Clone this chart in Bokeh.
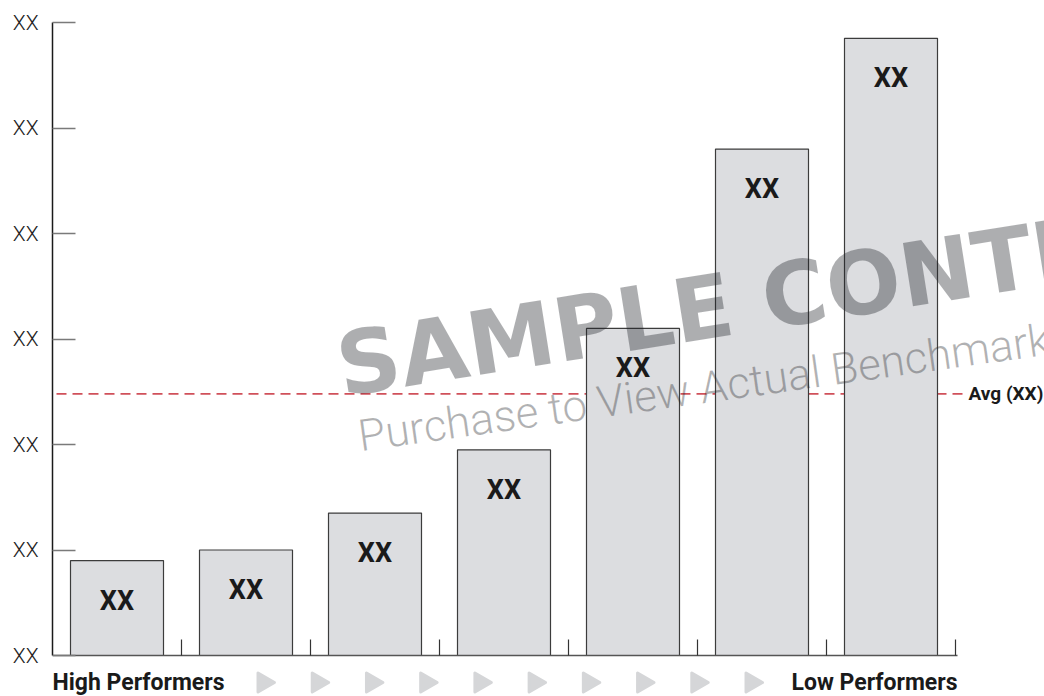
import numpy as np
from bokeh.plotting import figure
from bokeh.models import FixedTicker, Range1d
from bokeh.core.properties import value
from bokeh.embed import file_html
from bokeh.resources import INLINE

# ---------------- data ----------------
categories = ["Group 1", "Group 2", "Group 3", "Group 4", "Group 5", "Group 6", "Group 7"]
bar_values = [0.90, 1.00, 1.35, 1.95, 3.10, 4.80, 5.85]
bar_labels = ["XX", "XX", "XX", "XX", "XX", "XX", "XX"]
y_ticks = [0, 1, 2, 3, 4, 5, 6]
y_tick_labels = ["XX", "XX", "XX", "XX", "XX", "XX", "XX"]
avg_value = 2.48
avg_label = "Avg (XX)"
left_label = "High Performers"
right_label = "Low Performers"
n_arrows = 10
watermark_main = "SAMPLE CONTENT"
watermark_sub = "Purchase to View Actual Benchmarks"

# ---------------- layout ----------------
W, H = 1044, 696
LEFT, TOP = 52, 14
PX_X = 129.0      # pixels per category
PX_Y = 105.5      # pixels per y unit
ORIGIN_X, ORIGIN_Y = 52, 655   # screen position of (0, 0)


def fx(px):
    return (px - ORIGIN_X) / PX_X


def fy(py):
    return (ORIGIN_Y - py) / PX_Y


x_right = fx(W)
y_top = fy(TOP)
y_bot = fy(H)

FONT = value("Roboto")
TXT = "#1a1a1a"

p = figure(width=W, height=H, x_range=Range1d(0, x_right), y_range=Range1d(y_bot, y_top),
           x_axis_type=None, output_backend="svg", toolbar_location=None,
           min_border_left=LEFT, min_border_right=0, min_border_top=TOP, min_border_bottom=0)
p.grid.visible = False
p.outline_line_color = None
p.background_fill_color = "white"
p.border_fill_color = "white"

ya = p.yaxis[0]
ya.ticker = FixedTicker(ticks=y_ticks)
ya.major_label_overrides = {t: l for t, l in zip(y_ticks, y_tick_labels)}
ya.bounds = (min(y_ticks), max(y_ticks))
ya.major_tick_in = 23
ya.major_tick_out = 0
ya.minor_tick_in = 0
ya.minor_tick_out = 0
ya.axis_line_color = "#1a1a1a"
ya.axis_line_width = 1.5
ya.major_tick_line_color = "#7a7a7a"
ya.major_tick_line_width = 1.5
ya.major_label_text_font = "Roboto Light, Roboto"
ya.major_label_text_font_size = "21px"
ya.major_label_text_color = "#222222"
ya.major_label_standoff = 14

n = len(categories)
xs = [i + 0.5 for i in range(n)]

# average line (behind bars)
p.segment(x0=[fx(56)], y0=[avg_value], x1=[fx(962)], y1=[avg_value],
          line_color="#d0505a", line_width=1.6, line_dash="10 6")

# bars
p.vbar(x=xs, top=bar_values, bottom=0, width=93 / PX_X,
       fill_color="#dcdde0", line_color="#3c3c3c", line_width=1.2)

# baseline and category separators
p.segment(x0=[0], y0=[0], x1=[n + 2 / PX_X], y1=[0], line_color="#555555", line_width=1.6)
p.segment(x0=list(range(1, n + 1)), y0=[0] * n, x1=list(range(1, n + 1)), y1=[16 / PX_Y] * n,
          line_color="#333333", line_width=1.2)

# watermark
p.text(x=[fx(337)], y=[fy(366)], text=[watermark_main], angle=np.deg2rad(9),
       text_font=value("DejaVu Sans"), text_font_style="bold", text_font_size=value("88px"),
       text_color="#1c1e24", text_alpha=0.36, text_baseline="middle", text_align="left")
p.text(x=[fx(358)], y=[fy(436)], text=[watermark_sub], angle=np.deg2rad(8),
       text_font=value("Roboto Light, Roboto"), text_font_size=value("44px"),
       text_color="#1c1e24", text_alpha=0.34, text_baseline="middle", text_align="left")

# bar value labels
p.text(x=xs, y=bar_values, text=bar_labels, y_offset=40,
       text_font=FONT, text_font_style="bold", text_font_size=value("27px"),
       text_color=TXT, text_align="center", text_baseline="middle")

# average label
p.text(x=[fx(968)], y=[avg_value], text=[avg_label],
       text_font=FONT, text_font_style="bold", text_font_size=value("19px"),
       text_color=TXT, text_align="left", text_baseline="middle")

# bottom labels and arrows
p.text(x=[0], y=[fy(682)], text=[left_label],
       text_font=FONT, text_font_style="bold", text_font_size=value("23px"),
       text_color=TXT, text_align="left", text_baseline="middle")
p.text(x=[n + 2 / PX_X], y=[fy(682)], text=[right_label],
       text_font=FONT, text_font_style="bold", text_font_size=value("23px"),
       text_color=TXT, text_align="right", text_baseline="middle")
arrow_x = np.linspace(fx(263), fx(751), n_arrows)
p.scatter(x=arrow_x, y=[fy(682)] * n_arrows, marker="triangle", size=19, angle=-np.pi / 2,
          fill_color="#d5d6d8", line_color="#d5d6d8", line_width=3, line_join="round")

open("out.html", "w").write(file_html(p, INLINE))
